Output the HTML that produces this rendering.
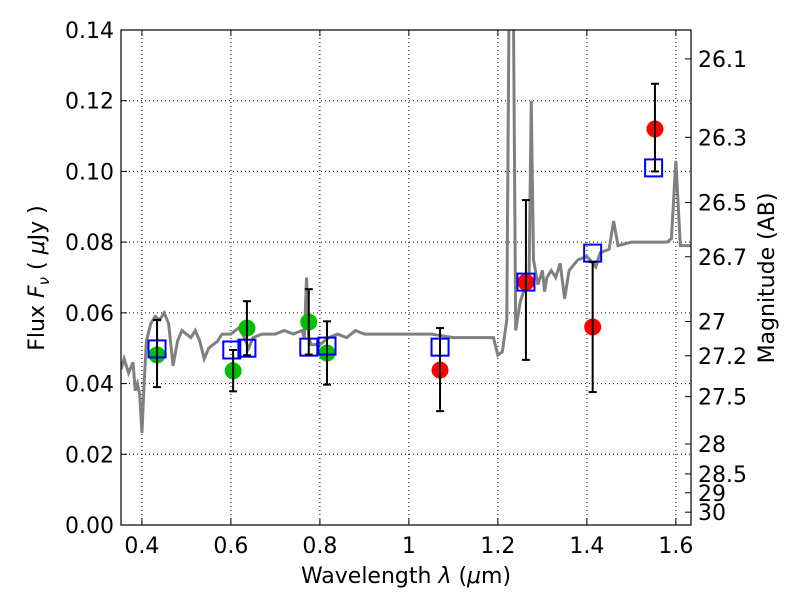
<!DOCTYPE html>
<html><head><meta charset="utf-8"><style>
body{margin:0;background:#fff;width:800px;height:600px;overflow:hidden}
text{font-family:"DejaVu Sans","Liberation Sans",sans-serif;font-size:22px;fill:#000}
</style></head><body>
<svg id="c" width="800" height="600"></svg>
<script>
const specX=[0.353,0.36,0.37,0.38,0.385,0.39,0.395,0.40,0.405,0.41,0.42,0.43,0.44,0.45,0.46,0.47,0.48,0.49,0.50,0.51,0.52,0.53,0.54,0.55,0.56,0.57,0.58,0.60,0.62,0.63,0.64,0.65,0.67,0.70,0.72,0.74,0.76,0.765,0.77,0.775,0.78,0.80,0.82,0.84,0.86,0.88,0.90,0.95,1.0,1.05,1.1,1.15,1.19,1.20,1.21,1.22,1.225,1.235,1.24,1.25,1.26,1.27,1.275,1.28,1.29,1.30,1.305,1.31,1.32,1.33,1.34,1.35,1.36,1.38,1.40,1.42,1.43,1.45,1.46,1.47,1.50,1.55,1.58,1.59,1.60,1.61,1.634];
const specY=[0.044,0.047,0.043,0.046,0.038,0.040,0.037,0.026,0.040,0.052,0.057,0.059,0.058,0.060,0.057,0.045,0.052,0.055,0.054,0.053,0.055,0.052,0.047,0.050,0.051,0.052,0.054,0.054,0.056,0.053,0.050,0.053,0.054,0.054,0.055,0.054,0.055,0.053,0.070,0.053,0.051,0.051,0.053,0.054,0.053,0.055,0.054,0.054,0.054,0.054,0.053,0.053,0.053,0.048,0.049,0.058,0.145,0.145,0.055,0.063,0.067,0.069,0.120,0.075,0.068,0.072,0.066,0.070,0.072,0.070,0.074,0.064,0.072,0.075,0.076,0.073,0.077,0.078,0.086,0.079,0.080,0.080,0.080,0.081,0.103,0.079,0.079];
const greenX=[0.434,0.605,0.636,0.775,0.816];
const greenY=[0.0481,0.0436,0.0557,0.0574,0.0486];
const greenLo=[0.039,0.0378,0.0480,0.0482,0.0397];
const greenHi=[0.058,0.0495,0.0633,0.0667,0.0576];
const redX=[1.07,1.263,1.413,1.553];
const redY=[0.0438,0.0687,0.056,0.112];
const redLo=[0.0322,0.0467,0.0376,0.1];
const redHi=[0.0557,0.0919,0.0744,0.1248];
const boxX=[0.434,0.602,0.636,0.775,0.816,1.07,1.263,1.413,1.55];
const boxY=[0.0498,0.0495,0.050,0.0503,0.0506,0.0503,0.0687,0.0769,0.101];
const xTicks=[0.4,0.6,0.8,1,1.2,1.4,1.6];
const yTicks=[0,0.02,0.04,0.06,0.08,0.10,0.12,0.14];
const yTickLabels=["0.00","0.02","0.04","0.06","0.08","0.10","0.12","0.14"];
const magTicks=[26.1,26.3,26.5,26.7,27,27.2,27.5,28,28.5,29,30];

const L=121,R=691,T=30,B=525,X0=0.353,X1=1.634,Y1=0.14;
const sx=v=>L+(v-X0)/(X1-X0)*(R-L);
const sy=v=>B-v/Y1*(B-T);
const svg=document.getElementById('c');
const NS='http://www.w3.org/2000/svg';
function mk(t,a,p){const e=document.createElementNS(NS,t);for(const k in a)e.setAttribute(k,a[k]);(p||svg).appendChild(e);return e;}
const clip=mk('clipPath',{id:'pc'});mk('rect',{x:L,y:T,width:R-L,height:B-T},clip);
xTicks.forEach(v=>{const g=mk('line',{x1:sx(v),x2:sx(v),y1:T,y2:B,stroke:'#000','stroke-dasharray':'1,3','stroke-width':1});

const t=mk('text',{x:sx(v),y:B+28,'text-anchor':'middle'});t.textContent=String(v);

mk('line',{x1:sx(v),x2:sx(v),y1:B,y2:B-6,stroke:'#000'});mk('line',{x1:sx(v),x2:sx(v),y1:T,y2:T+6,stroke:'#000'});});
yTicks.forEach((v,i)=>{const g=mk('line',{x1:L,x2:R,y1:sy(v),y2:sy(v),stroke:'#000','stroke-dasharray':'1,3','stroke-width':1});

const t=mk('text',{x:L-7,y:sy(v)+8,'text-anchor':'end'});t.textContent=yTickLabels[i];

mk('line',{x1:L,x2:L+6,y1:sy(v),y2:sy(v),stroke:'#000'});});
magTicks.forEach(m=>{const f=Math.pow(10,(23.9-m)/2.5);const y=sy(f);
mk('line',{x1:R,x2:R-6,y1:y,y2:y,stroke:'#000'});
const t=mk('text',{x:R+7,y:y+8});t.textContent=String(m);
});
const sp=mk('polyline',{points:specX.map((x,i)=>sx(x)+','+sy(specY[i])).join(' '),fill:'none',stroke:'#808080','stroke-width':3,'clip-path':'url(#pc)'});

function errbar(x,lo,hi){const g=mk('g',{stroke:'#000','stroke-width':2});

mk('line',{x1:sx(x),x2:sx(x),y1:sy(lo),y2:sy(hi)},g);
mk('line',{x1:sx(x)-4,x2:sx(x)+4,y1:sy(lo),y2:sy(lo)},g);
mk('line',{x1:sx(x)-4,x2:sx(x)+4,y1:sy(hi),y2:sy(hi)},g);}
greenX.forEach((x,i)=>{const c=mk('circle',{cx:sx(x),cy:sy(greenY[i]),r:8.5,fill:'#00bf00'});
});
redX.forEach((x,i)=>{const c=mk('circle',{cx:sx(x),cy:sy(redY[i]),r:8.5,fill:'#ff0000'});
});
boxX.forEach((x,i)=>{const r=mk('rect',{x:sx(x)-8.5,y:sy(boxY[i])-8.5,width:17,height:17,fill:'none',stroke:'#0000ff','stroke-width':2});
});
greenX.forEach((x,i)=>errbar(x,greenLo[i],greenHi[i]));
redX.forEach((x,i)=>errbar(x,redLo[i],redHi[i]));
const fr=mk('rect',{x:L,y:T,width:R-L,height:B-T,fill:'none',stroke:'#000','stroke-width':1.2});

</script>
<svg width="800" height="600" style="position:absolute;left:0;top:0">
<text x="406" y="583" text-anchor="middle">Wavelength  <tspan font-style="italic">λ</tspan> (<tspan font-style="italic">μ</tspan>m)</text>
<text transform="translate(44,278) rotate(-90)" text-anchor="middle">Flux  <tspan font-style="italic">F</tspan><tspan font-style="italic" font-size="15" dy="5">ν</tspan><tspan dy="-5"> (  </tspan><tspan font-style="italic">μ</tspan>Jy )</text>
<text transform="translate(774,278) rotate(-90)" text-anchor="middle">Magnitude (AB)</text>
</svg>
</body></html>
